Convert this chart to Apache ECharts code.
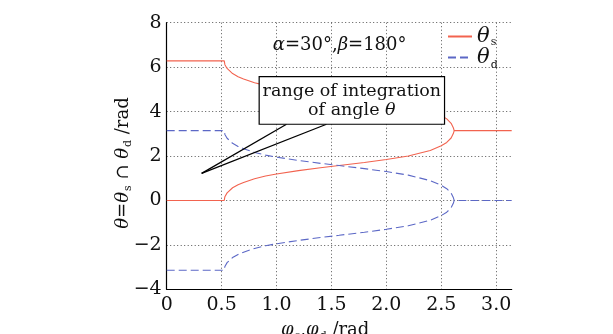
<!DOCTYPE html>
<html><head><meta charset="utf-8">
<script src="https://cdn.jsdelivr.net/npm/echarts@6/dist/echarts.min.js"></script>
<style>html,body{margin:0;padding:0;background:#fff}#c{width:613px;height:334px}</style>
</head><body><div id="c"></div>
<script>
// ---- data ----
const xTickLabels = ['0', '0.5', '1.0', '1.5', '2.0', '2.5', '3.0'];
const yTickLabels = ['−4', '−2', '0', '2', '4', '6', '8'];
const seriesNames = ['θs', 'θd'];

const phiFlatLeft  = [0, 0.524];
const phiFlatRight = [2.618, 3.1416];
const phiBranch    = [0.524, 0.53, 0.55, 0.6, 0.65, 0.7, 0.8, 0.9, 1.0, 1.2, 1.4, 1.57, 1.8, 2.0, 2.2, 2.4, 2.5, 2.55, 2.59, 2.61, 2.618];

// theta_s
const thetaSFlatLower = [0, 0];
const thetaSFlatUpper = [6.28, 6.28];
const thetaSFlatRight = [3.14, 3.14];
const thetaSLower = [0, 0.17, 0.34, 0.57, 0.71, 0.81, 0.98, 1.10, 1.19, 1.34, 1.47, 1.57, 1.71, 1.84, 2.00, 2.25, 2.46, 2.61, 2.81, 3.01, 3.14];
const thetaSUpper = [6.28, 6.11, 5.94, 5.71, 5.57, 5.47, 5.30, 5.18, 5.09, 4.94, 4.81, 4.71, 4.57, 4.44, 4.28, 4.03, 3.82, 3.67, 3.47, 3.27, 3.14];

// theta_d
const thetaDFlatUpper = [3.14, 3.14];
const thetaDFlatLower = [-3.14, -3.14];
const thetaDFlatRight = [0, 0];
const thetaDUpper = [3.14, 2.97, 2.80, 2.57, 2.43, 2.33, 2.16, 2.04, 1.95, 1.80, 1.67, 1.57, 1.43, 1.30, 1.14, 0.89, 0.68, 0.53, 0.33, 0.13, 0];
const thetaDLower = [-3.14, -2.97, -2.80, -2.57, -2.43, -2.33, -2.16, -2.04, -1.95, -1.80, -1.67, -1.57, -1.43, -1.30, -1.14, -0.89, -0.68, -0.53, -0.33, -0.13, 0];

// ---- build ----
function pairs(xs, ys) { return xs.map((x, i) => [x, ys[i]]); }
const redColor = '#f2634f';
const blueColor = '#5c68c6';
const SERIF = 'DejaVu Serif';

const sLowerPath = pairs(phiFlatLeft, thetaSFlatLower).concat(pairs(phiBranch, thetaSLower), pairs(phiFlatRight, thetaSFlatRight));
const sUpperPath = pairs(phiFlatLeft, thetaSFlatUpper).concat(pairs(phiBranch, thetaSUpper));
const dUpperPath = pairs(phiFlatLeft, thetaDFlatUpper).concat(pairs(phiBranch, thetaDUpper), pairs(phiFlatRight, thetaDFlatRight));
const dLowerPath = pairs(phiFlatLeft, thetaDFlatLower).concat(pairs(phiBranch, thetaDLower));

const sStyle = { color: redColor, width: 1.1, type: 'solid' };
const dStyle = { color: blueColor, width: 1.1, type: [8, 4] };

function lineSeries(name, data, style) {
  return { name, type: 'line', data, symbol: 'none', showSymbol: false, smooth: false,
           lineStyle: style, itemStyle: { color: style.color }, silent: true, animation: false, z: 3 };
}

const chart = echarts.init(document.getElementById('c'), null, { renderer: 'canvas' });
const gridDot = { color: '#555', width: 1, type: [1, 2.5] };
const subRich = {
  i: { fontFamily: SERIF, fontStyle: 'italic', fontSize: 18, color: '#111' },
  n: { fontFamily: SERIF, fontSize: 18, color: '#111' },
  sub: { fontFamily: SERIF, fontSize: 11, color: '#111', padding: [10, 0, 0, 1] }
};

chart.setOption({
  backgroundColor: '#fff',
  animation: false,
  grid: { left: 166.7, right: 101.3, top: 22.7, bottom: 44.7, containLabel: false, outerBoundsMode: 'none' },
  legend: {
    orient: 'vertical', left: 447, top: 25, itemWidth: 24, itemHeight: 2, itemGap: -4,
    data: seriesNames, selectedMode: false, backgroundColor: 'transparent', padding: 0,
    itemStyle: { color: 'transparent', borderWidth: 0, borderColor: 'transparent' },
    formatter: n => n === 'θs' ? '{t|θ}{s|s}' : '{t|θ}{d|d}',
    textStyle: {
      rich: {
        t: { fontFamily: SERIF, fontStyle: 'italic', fontSize: 21, lineHeight: 21, color: '#111' },
        s: { fontFamily: SERIF, fontSize: 11, lineHeight: 21, color: '#111', padding: [12, 0, 0, 1] },
        d: { fontFamily: SERIF, fontSize: 11, lineHeight: 21, color: '#111', padding: [16, 0, 0, 1] }
      }
    }
  },
  xAxis: {
    type: 'value', min: 0, max: Math.PI, interval: 0.5,
    name: '{i|φ}{sub|s}{n|,}{i|φ}{sub|d}{n| /rad}', nameLocation: 'middle', nameGap: 31, nameMoveOverlap: false,
    nameTextStyle: { rich: subRich, padding: [0, 28, 0, 0] },
    axisLine: { onZero: false, lineStyle: { color: '#000', width: 1.2 } },
    axisTick: { show: false },
    axisLabel: {
      showMaxLabel: false, margin: 6, color: '#111', fontFamily: SERIF, fontSize: 19,
      formatter: v => { const k = Math.round(v / 0.5); return (Math.abs(v - k * 0.5) < 1e-6 && k < xTickLabels.length) ? xTickLabels[k] : ''; }
    },
    splitLine: { show: true, showMinLine: false, showMaxLine: false, lineStyle: gridDot }
  },
  yAxis: {
    type: 'value', min: -4, max: 8, interval: 2,
    name: '{i|θ}{n|=}{i|θ}{sub|s}{n| ∩ }{i|θ}{sub|d}{n| /rad}', nameLocation: 'middle', nameGap: 33, nameRotate: 90, nameMoveOverlap: false,
    nameTextStyle: { rich: subRich, padding: [0, 14, 0, 0] },
    axisLine: { onZero: false, lineStyle: { color: '#000', width: 1.2 } },
    axisTick: { show: false },
    axisLabel: {
      margin: 5, color: '#111', fontFamily: SERIF, fontSize: 19,
      formatter: v => { const k = Math.round((v + 4) / 2); return yTickLabels[k] || ''; }
    },
    splitLine: { show: true, showMinLine: false, lineStyle: gridDot }
  },
  series: [
    lineSeries('θs', sLowerPath, sStyle),
    lineSeries('θs', sUpperPath, sStyle),
    lineSeries('θd', dUpperPath, dStyle),
    lineSeries('θd', dLowerPath, dStyle)
  ]
});

// ---- annotations placed in data coordinates ----
const P = (x, y) => chart.convertToPixel({ gridIndex: 0 }, [x, y]);
const boxTL = P(0.842, 5.57), boxBR = P(2.530, 3.43);
const tip = P(0.318, 1.22), base1 = P(1.091, 3.43), base2 = P(1.455, 3.43);
const label = P(1.575, 7.0);

chart.setOption({
  graphic: [
    { type: 'line', z: 50, shape: { x1: base1[0], y1: base1[1], x2: tip[0], y2: tip[1] }, style: { stroke: '#000', lineWidth: 1.3 } },
    { type: 'line', z: 50, shape: { x1: base2[0], y1: base2[1], x2: tip[0], y2: tip[1] }, style: { stroke: '#000', lineWidth: 1.3 } },
    { type: 'rect', z: 60, shape: { x: boxTL[0], y: boxTL[1], width: boxBR[0] - boxTL[0], height: boxBR[1] - boxTL[1] },
      style: { fill: '#fff', stroke: '#000', lineWidth: 1.2 } },
    { type: 'text', z: 61, x: (boxTL[0] + boxBR[0]) / 2, y: (boxTL[1] + boxBR[1]) / 2,
      style: { text: '{n|range of integration}\n{n|of angle }{i|θ}', align: 'center', verticalAlign: 'middle',
        rich: { n: { fontFamily: SERIF, fontSize: 17.5, lineHeight: 19, fill: '#111' },
                i: { fontFamily: SERIF, fontStyle: 'italic', fontSize: 17.5, lineHeight: 19, fill: '#111' } } } },
    { type: 'text', z: 61, x: label[0], y: label[1],
      style: { text: '{i|α}{n|=30°,}{i|β}{n|=180°}', align: 'center', verticalAlign: 'middle',
        rich: { n: { fontFamily: SERIF, fontSize: 18, fill: '#111' },
                i: { fontFamily: SERIF, fontStyle: 'italic', fontSize: 18, fill: '#111' } } } }
  ]
});
</script>
</body></html>
